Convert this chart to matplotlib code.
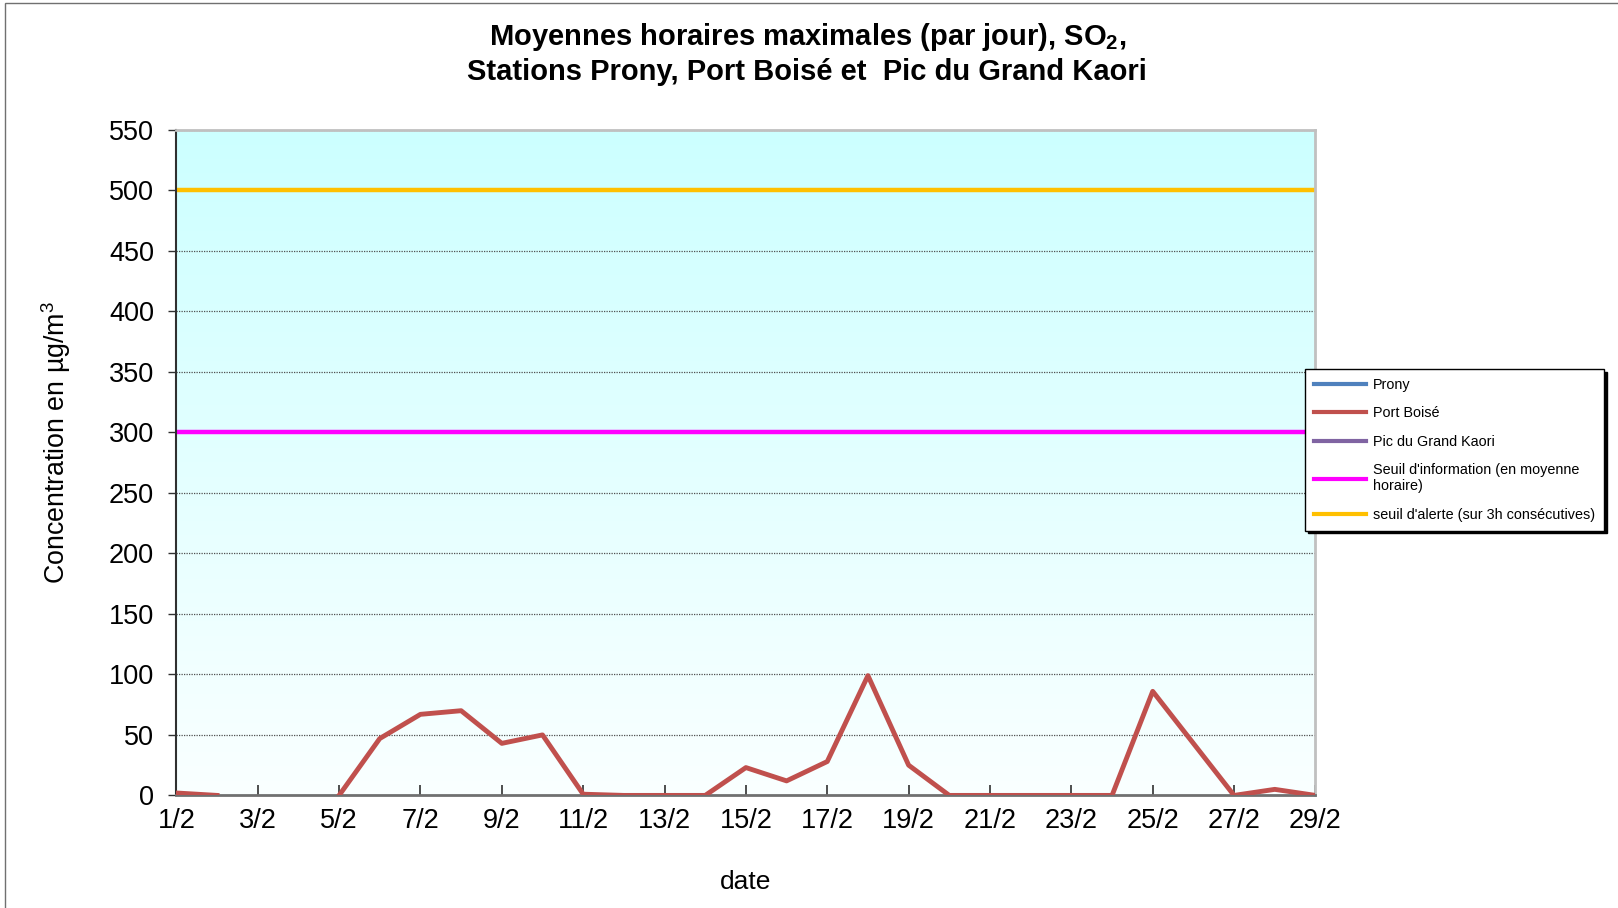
import numpy as np
import matplotlib
matplotlib.use("Agg")
import matplotlib.pyplot as plt
from matplotlib.patches import Rectangle

plt.rcParams['font.family'] = ['Liberation Sans', 'DejaVu Sans']
plt.rcParams['mathtext.default'] = 'regular'

# === DATA (février, un point par jour) ===
days = list(range(1, 30))
day_labels = [f"{d}/2" for d in days]

# Port Boisé : jours 3 et 4 manquants
port_boise = [2, 0, None, None, 0, 47, 67, 70, 43, 50,
              1, 0, 0, 0, 23, 12, 28, 99, 25, 0,
              0, 0, 0, 0, 86, 43, 0, 5, 0]
# Prony et Pic du Grand Kaori : pas de données
prony = [None] * 29
pic_grand_kaori = [None] * 29

seuil_information = 300
seuil_alerte = 500

def to_arr(vals):
    return np.array([np.nan if v is None else v for v in vals], dtype=float)

# === FIGURE ===
fig = plt.figure(figsize=(16.18, 9.08), dpi=100)
ax = fig.add_axes([0.109, 0.124, 0.704, 0.733])

# degradé cyan -> blanc en fond
grad = np.linspace(0, 1, 256).reshape(-1, 1)
top = np.array([0.80, 1.0, 1.0])
bot = np.array([0.98, 1.0, 1.0])
img = top[None, None, :] * (1 - grad[:, :, None]) + bot[None, None, :] * grad[:, :, None]
ax.imshow(img, extent=[0, 1, 0, 1], transform=ax.transAxes, aspect='auto', zorder=0)

ax.set_xlim(days[0], days[-1])
ax.set_ylim(0, 550)

for y in range(50, 551, 50):
    ax.axhline(y, color='#505050', lw=0.9, ls=(0, (1, 1)), zorder=1)

ax.plot(days, to_arr(prony), color='#4F81BD', lw=3.5, label='Prony', zorder=3)
ax.plot(days, to_arr(port_boise), color='#C0504D', lw=3.5, label='Port Boisé', zorder=3)
ax.plot(days, to_arr(pic_grand_kaori), color='#8064A2', lw=3.5, label='Pic du Grand Kaori', zorder=3)
ax.plot(days, [seuil_information] * len(days), color='#FF00FF', lw=3.2,
        label="Seuil d'information (en moyenne\nhoraire)", zorder=2)
ax.plot(days, [seuil_alerte] * len(days), color='#FFC000', lw=3.2,
        label="seuil d'alerte (sur 3h consécutives)", zorder=2)

ax.set_xticks(days[::2])
ax.set_xticklabels(day_labels[::2])
ax.set_yticks(range(0, 551, 50))
ax.tick_params(axis='x', direction='in', length=7, width=1.2, labelsize=19.5, pad=9, colors='#303030',
               labelcolor='black')
ax.tick_params(axis='y', direction='out', length=6, width=1, labelsize=19.5, pad=10, colors='#303030',
               labelcolor='black')

ax.spines['left'].set_color('#303030')
ax.spines['left'].set_linewidth(1.5)
ax.spines['bottom'].set_color('#707070')
ax.spines['bottom'].set_linewidth(2)
for s in ('top', 'right'):
    ax.spines[s].set_color('#C0C0C0')
    ax.spines[s].set_linewidth(2)

ax.set_ylabel('Concentration en µg/m$^3$', fontsize=19.3, labelpad=26)
ax.yaxis.label.set_y(0.53)
ax.set_xlabel('date', fontsize=19, labelpad=26)

fig.text(0.499, 0.959, 'Moyennes horaires maximales (par jour), SO$_2$,',
         ha='center', va='center', fontsize=21, fontweight='bold')
fig.text(0.499, 0.921, 'Stations Prony, Port Boisé et  Pic du Grand Kaori',
         ha='center', va='center', fontsize=21, fontweight='bold')

leg = ax.legend(loc='upper left', bbox_to_anchor=(1298 / 1618, 1 - 362 / 908),
                bbox_transform=fig.transFigure, fontsize=10.4, frameon=True, fancybox=False,
                edgecolor='black', handlelength=3.6, labelspacing=1.0, borderpad=0.6,
                handletextpad=0.5, shadow={'color': 'black', 'alpha': 1})
leg.get_frame().set_linewidth(1)
for line in leg.get_lines():
    line.set_linewidth(3)

# cadre de la figure
fig.add_artist(Rectangle((5 / 1618, -0.1), 1.2, 1.1 - 3 / 908, transform=fig.transFigure,
                         fill=False, edgecolor='#707070', lw=1))

fig.savefig('out.png', dpi=100)
